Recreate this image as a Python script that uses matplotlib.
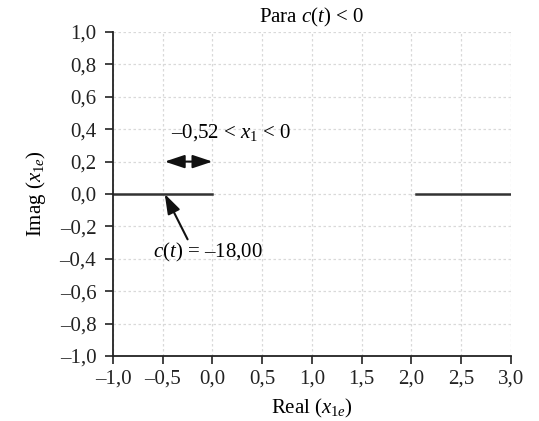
import matplotlib
matplotlib.use("Agg")
import matplotlib.pyplot as plt
from matplotlib.ticker import FuncFormatter

plt.rcParams['font.family'] = ['Liberation Serif', 'DejaVu Serif']
plt.rcParams['mathtext.fontset'] = 'custom'
plt.rcParams['mathtext.rm'] = 'Liberation Serif'
plt.rcParams['mathtext.it'] = 'Liberation Serif:italic'

# segments of the imaginary part (x1e) where it is zero
seg1_x = [-1.0, 0.0]
seg1_y = [0.0, 0.0]
seg2_x = [2.05, 3.0]
seg2_y = [0.0, 0.0]

x_ticks = [-1.0, -0.5, 0.0, 0.5, 1.0, 1.5, 2.0, 2.5, 3.0]
y_ticks = [-1.0, -0.8, -0.6, -0.4, -0.2, 0.0, 0.2, 0.4, 0.6, 0.8, 1.0]


def fmt(v, pos):
    s = "{:.1f}".format(v).replace(".", ",")
    if s.startswith("-"):
        s = "\u2013" + s[1:]
    if s == "\u20130,0":
        s = "0,0"
    return s


fig = plt.figure(figsize=(5.39, 4.21), dpi=100)
ax = fig.add_axes([0.2096, 0.1544, 0.7384, 0.7696])

ax.plot(seg1_x, seg1_y, color='#333333', lw=1.8)
ax.plot(seg2_x, seg2_y, color='#333333', lw=1.8)

ax.set_xlim(-1.0, 3.0)
ax.set_ylim(-1.0, 1.0)
ax.set_xticks(x_ticks)
ax.set_yticks(y_ticks)
ax.xaxis.set_major_formatter(FuncFormatter(fmt))
ax.yaxis.set_major_formatter(FuncFormatter(fmt))
ax.tick_params(direction='out', length=6, width=1.2, labelsize=15, colors='#222222')
ax.tick_params(axis='x', pad=4)
ax.tick_params(axis='y', pad=6)
ax.grid(True, color='#d9d9d9', linestyle=(0, (2, 2)), lw=0.9)
ax.set_axisbelow(True)

for side in ['top', 'right']:
    ax.spines[side].set_visible(False)
for side in ['left', 'bottom']:
    ax.spines[side].set_linewidth(1.3)
    ax.spines[side].set_color('#222222')

ax.set_title(r'Para $c(t)$ < 0', fontsize=15, pad=7)
ax.set_xlabel(r'Real ($x_{1e}$)', fontsize=15, labelpad=6)
ax.set_ylabel(r'Imag ($x_{1e}$)', fontsize=15, labelpad=8)

# double arrow for interval
ax.annotate('', xy=(-0.48, 0.2), xytext=(0.0, 0.2),
            arrowprops=dict(arrowstyle='<|-|>,head_length=1.2,head_width=0.4',
                            color='#111111', lw=1.5,
                            mutation_scale=10, shrinkA=0, shrinkB=0))
ax.text(0.19, 0.38, '\u20130,52 < $x_{1}$ < 0', fontsize=15, ha='center', va='center')

ax.annotate('', xy=(-0.48, 0.0), xytext=(-0.25, -0.28),
            arrowprops=dict(arrowstyle='-|>,head_length=1.2,head_width=0.4',
                            color='#111111', lw=1.5,
                            mutation_scale=10, shrinkA=0, shrinkB=0))
ax.text(-0.05, -0.36, '$c(t)$ = \u201318,00', fontsize=15, ha='center', va='center')

fig.savefig('out.png', dpi=100)
